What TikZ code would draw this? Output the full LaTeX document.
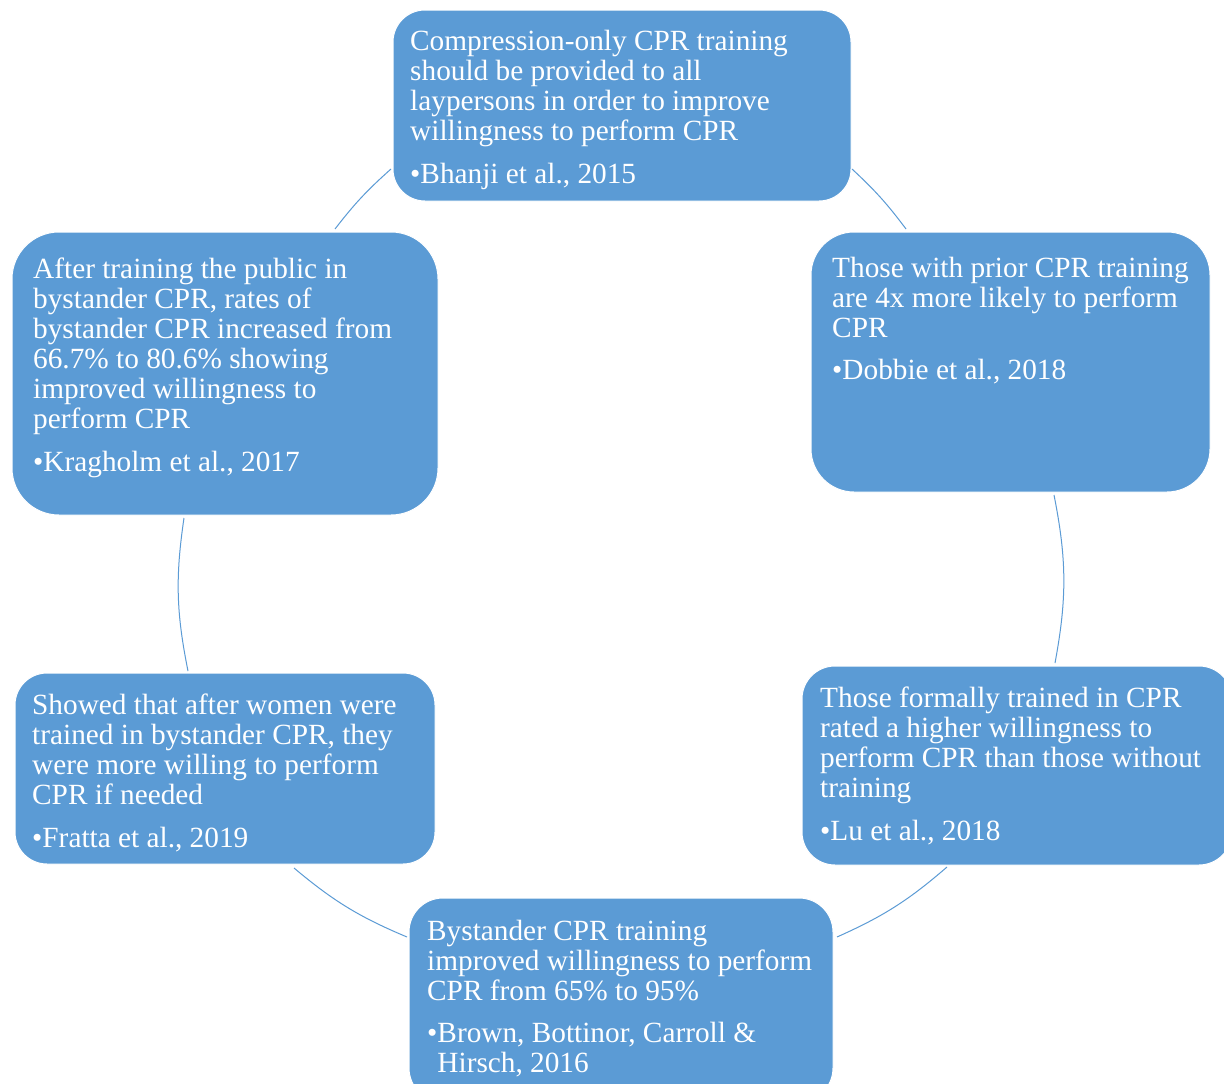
\documentclass[tikz,border=0pt]{standalone}
\usepackage{fontspec}
\setmainfont{Liberation Serif}
\definecolor{boxblue}{HTML}{5B9BD5}
\tikzset{
  box/.style={draw=white, line width=1pt, fill=boxblue, inner sep=0pt},
  txt/.style={anchor=base west, inner sep=0pt, text=white, font=\fontsize{29.3}{30}\selectfont},
  arc/.style={draw=boxblue, line width=1pt},
}
\newcommand{\tb}[1]{\begin{tabular}[t]{@{}l@{}}#1\end{tabular}}
\begin{document}
\begin{tikzpicture}[x=1pt,y=-1pt]
\useasboundingbox (0,0) rectangle (1224,1084);
\clip (0,0) rectangle (1224,1084);
\fill[white] (0,0) rectangle (1224,1084);
% boxes
\node[box, minimum width=458pt, minimum height=191pt, rounded corners=32pt] (n1) at (622,105.5) {};
\node[box, minimum width=399pt, minimum height=260pt, rounded corners=43pt] (n2) at (1010.5,362) {};
\node[box, minimum width=430pt, minimum height=199pt, rounded corners=33pt] (n3) at (1017,765.5) {};
\node[box, minimum width=424pt, minimum height=204pt, rounded corners=34pt] (n4) at (621,1000) {};
\node[box, minimum width=420pt, minimum height=191pt, rounded corners=32pt] (n5) at (225,768.5) {};
\node[box, minimum width=426pt, minimum height=283pt, rounded corners=47pt] (n6) at (225,373.5) {};
% texts
\node[txt] (t1) at (410,50) {\tb{Compression-only CPR training\\ should be provided to all\\ laypersons in order to improve\\ willingness to perform CPR\\[13pt] •Bhanji et al., 2015}};
\node[txt] (t2) at (832,277) {\tb{Those with prior CPR training\\ are 4x more likely to perform\\ CPR\\[12pt] •Dobbie et al., 2018}};
\node[txt] (t3) at (820,707) {\tb{Those formally trained in CPR\\ rated a higher willingness to\\ perform CPR than those without\\ training\\[13pt] •Lu et al., 2018}};
\node[txt] (t4) at (427,940) {\tb{Bystander CPR training\\ improved willingness to perform\\ CPR from 65\% to 95\%\\[12pt] •Brown, Bottinor, Carroll \&\\ \phantom{•}Hirsch, 2016}};
\node[txt] (t5) at (32,714) {\tb{Showed that after women were\\ trained in bystander CPR, they\\ were more willing to perform\\ CPR if needed\\[13pt] •Fratta et al., 2019}};
\node[txt] (t6) at (33,278) {\tb{After training the public in\\ bystander CPR, rates of\\ bystander CPR increased from\\ 66.7\% to 80.6\% showing\\ improved willingness to\\ perform CPR\\[13pt] •Kragholm et al., 2017}};
% arc end points
\coordinate (a1s) at (852,169); \coordinate (a1e) at (906,229);
\coordinate (a2s) at (1054,495); \coordinate (a2e) at (1055,663);
\coordinate (a3s) at (947,867); \coordinate (a3e) at (837,937);
\coordinate (a4s) at (407,937); \coordinate (a4e) at (294,868);
\coordinate (a5s) at (188,671); \coordinate (a5e) at (184,518);
\coordinate (a6s) at (335,229); \coordinate (a6e) at (391,169);
\draw[arc] (a1s) to[bend left=5.2] (a1e);
\draw[arc] (a2s) to[bend left=10.9] (a2e);
\draw[arc] (a3s) to[bend left=8.4] (a3e);
\draw[arc] (a4s) to[bend left=8.6] (a4e);
\draw[arc] (a5s) to[bend left=9.9] (a5e);
\draw[arc] (a6s) to[bend left=5.3] (a6e);
\end{tikzpicture}
\end{document}
